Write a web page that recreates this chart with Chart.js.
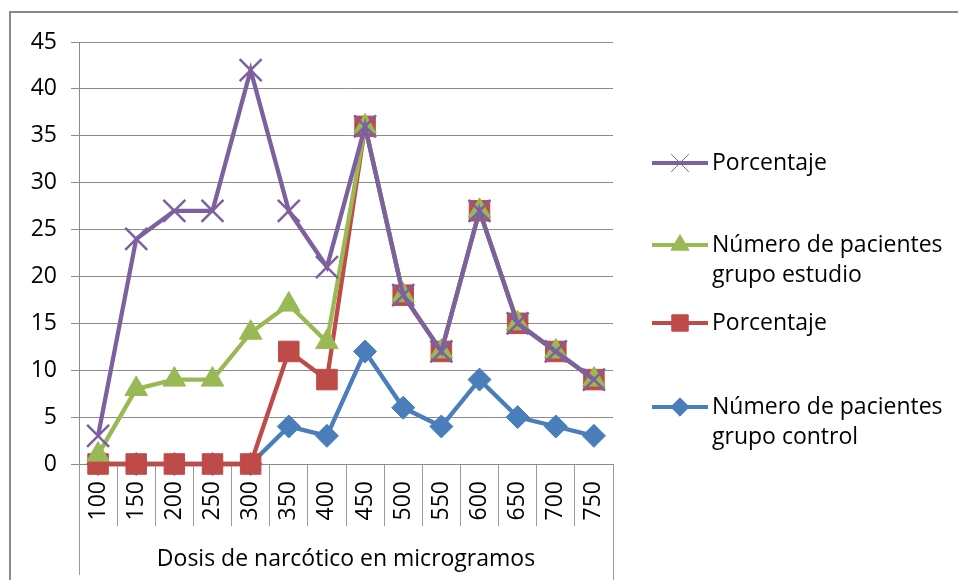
<!DOCTYPE html>
<html><head><meta charset="utf-8">
<script src="https://cdn.jsdelivr.net/npm/chart.js@4/dist/chart.umd.min.js"></script>
<style>
html,body{margin:0;padding:0;background:#fff;}
#wrap{position:relative;width:958px;height:580px;overflow:hidden;}
#frame{position:absolute;left:9px;top:11px;width:1000px;height:600px;border-top:2px solid #8a8a8a;border-left:2px solid #8a8a8a;}
canvas{position:absolute;left:0;top:0;}
</style></head><body>
<div id="wrap"><div id="frame"></div><canvas id="c" width="958" height="580"></canvas></div>
<script>
const categories = ['100','150','200','250','300','350','400','450','500','550','600','650','700','750'];
const porcentajeEstudio = [3,24,27,27,42,27,21,36,18,12,27,15,12,9];
const pacientesEstudio  = [1,8,9,9,14,17,13,36,18,12,27,15,12,9];
const porcentajeControl = [0,0,0,0,0,12,9,36,18,12,27,15,12,9];
const pacientesControl  = [0,0,0,0,0,4,3,12,6,4,9,5,4,3];
const seriesLabels = [['Porcentaje'], ['Número de pacientes','grupo estudio'], ['Porcentaje'], ['Número de pacientes','grupo control']];
const yMin = 0, yMax = 45, yStep = 5;
const axisTitle = 'Dosis de narcótico en microgramos';

const FONT = "'Open Sans', sans-serif";
const FS = 23;
const legendItemY = [163, 245, 323, 407];

function ds(label, data, color, style, radius, pbw) {
  return {
    label: label.join(' '), legendLines: label, data,
    borderColor: color, backgroundColor: color,
    pointBackgroundColor: color, pointBorderColor: color,
    borderWidth: 4.3, pointStyle: style, pointRadius: radius, pointBorderWidth: pbw,
    pointHoverRadius: radius, tension: 0, clip: false
  };
}

const customLegend = {
  id: 'customLegend',
  afterDraw(chart) {
    const ctx = chart.ctx;
    const x0 = chart.chartArea.right + 39;
    ctx.save();
    chart.data.datasets.forEach((d, i) => {
      const y = legendItemY[i];
      ctx.strokeStyle = d.borderColor;
      ctx.lineWidth = 4;
      ctx.beginPath(); ctx.moveTo(x0, y); ctx.lineTo(x0 + 56, y); ctx.stroke();
      ctx.fillStyle = d.pointBackgroundColor;
      ctx.strokeStyle = d.pointBorderColor;
      ctx.lineWidth = d.pointStyle === 'crossRot' ? 1 : d.pointBorderWidth;
      Chart.helpers.drawPoint(ctx, {pointStyle: d.pointStyle, radius: d.pointRadius * 0.8, borderWidth: ctx.lineWidth, rotation: 0}, x0 + 28, y);
      ctx.fillStyle = '#000';
      ctx.font = FS + "px " + FONT;
      ctx.textBaseline = 'middle';
      ctx.textAlign = 'left';
      d.legendLines.forEach((t, k) => ctx.fillText(t, x0 + 60, y + k * 30));
    });
    ctx.restore();
  }
};

const edgeLines = {
  id: 'edgeLines',
  afterDraw(chart) {
    const {ctx, chartArea} = chart;
    ctx.save();
    ctx.strokeStyle = '#9a9a9a';
    ctx.lineWidth = 1;
    ctx.beginPath();
    ctx.moveTo(Math.round(chartArea.left) + 0.5, chartArea.bottom);
    ctx.lineTo(Math.round(chartArea.left) + 0.5, chartArea.bottom + 111);
    ctx.moveTo(Math.round(chartArea.right) + 0.5, chartArea.bottom);
    ctx.lineTo(Math.round(chartArea.right) + 0.5, chartArea.bottom + 120);
    ctx.stroke();
    ctx.restore();
  }
};

new Chart(document.getElementById('c'), {
  type: 'line',
  data: {
    labels: categories,
    datasets: [
      ds(seriesLabels[0], porcentajeEstudio, '#7d60a0', 'crossRot', 15.5, 2.5),
      ds(seriesLabels[1], pacientesEstudio, '#98b954', 'triangle', 13, 1),
      ds(seriesLabels[2], porcentajeControl, '#be4b48', 'rect', 14.5, 1),
      ds(seriesLabels[3], pacientesControl, '#4a7ebb', 'rectRot', 11.5, 1)
    ]
  },
  options: {
    responsive: false,
    animation: false,
    devicePixelRatio: 1,
    layout: {padding: {left: 0, top: 42, right: 345, bottom: 0}},
    plugins: {legend: {display: false}, tooltip: {enabled: false}},
    scales: {
      x: {
        offset: true,
        afterFit(s) { s.height = 116; },
        grid: {display: true, drawOnChartArea: false, drawTicks: true, tickLength: 62, offset: true, color: '#9a9a9a'},
        border: {display: true, color: '#8a8a8a'},
        ticks: {autoSkip: false, maxRotation: 90, minRotation: 90, padding: -45, color: '#000', font: {family: FONT, size: FS}},
        title: {display: true, text: axisTitle, color: '#000', font: {family: FONT, size: FS}, padding: {top: 0, bottom: 7}}
      },
      y: {
        min: yMin, max: yMax,
        afterFit(s) { s.width = 79; },
        grid: {color: '#8a8a8a', tickLength: 8, drawTicks: true},
        border: {display: true, color: '#8a8a8a'},
        ticks: {stepSize: yStep, padding: 14, color: '#000', font: {family: FONT, size: FS}}
      }
    }
  },
  plugins: [customLegend, edgeLines]
});
</script>
</body></html>
